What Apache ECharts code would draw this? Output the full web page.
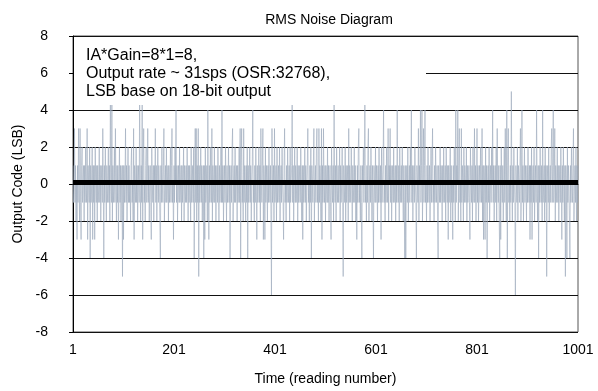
<!DOCTYPE html>
<html>
<head>
<meta charset="utf-8">
<script src="https://cdn.jsdelivr.net/npm/echarts@6/dist/echarts.min.js"></script>
<style>
  html, body { margin: 0; padding: 0; background: #fff; }
  #chart { width: 598px; height: 391px; }
</style>
</head>
<body>
<div id="chart"></div>
<script>
// Output code of each ADC reading, in LSB (50 readings per row)
const codesA = [1,-1,0,3,-1,1,-2,0,-3,1, -1,3,0,-2,3,-1,-3,1,2,-1, 0,1,-2,1,-1,2,0,-1,3,-3, 1,0,-1,2,-4,1,-1,0,2,-3, 1,-1,1,-3,2,0,-1,1,-2,1];
const codesB = [-1,0,2,-1,1,-2,0,1,-1,3, 0,-4,1,-1,2,0,-2,1,-1,0, 2,-1,1,-2,5,0,-1,5,-2,1, -1,0,2,-1,3,0,-2,1,-1,1, -3,0,2,-1,1,-2,0,1,-5,1];
const codesC = [-3,1,-1,0,3,-1,1,-2,0,2, -1,1,-1,0,-2,1,2,-1,0,-2, 3,-3,1,0,-1,2,-1,1,-2,0, 1,-1,5,0,-2,1,-1,5,-3,1, 3,-1,0,-2,1,2,-1,0,3,-1];
const codesD = [1,-2,0,1,-1,-3,2,0,-1,1, -2,1,0,3,-1,1,-2,0,2,-1, 1,0,-2,-4,1,-1,2,0,-1,1, 3,-2,0,1,-1,2,-1,0,1,-2, 1,-1,0,2,-1,1,3,-1,0,-3];
const codesE = [1,-1,2,0,4,-1,1,-2,0,1, -1,2,-1,0,1,-2,1,-1,0,2, -2,1,0,-1,1,-1,2,0,-2,1, -1,1,0,-2,2,-1,0,1,-1,2, -4,0,3,-1,3,-2,1,-1,3,-5];
const codesF = [1,-1,0,2,-1,1,-2,0,1,-4, 1,-3,2,-1,0,1,-2,4,0,-3, 1,-1,2,0,-1,3,-2,1,0,-1, 2,-1,1,-2,0,1,-1,2,0,-2, 1,-1,0,2,-1,4,-1,1,-2,0];
const codesG = [1,-1,2,0,-2,1,-1,0,2,-1, 1,-4,0,1,-1,2,3,-2,0,1, -1,2,-1,0,1,-2,1,-1,0,2, -1,3,-4,1,3,-1,0,-2,3,-1, 1,0,-2,1,-1,2,-4,1,-1,0];
const codesH = [2,-1,1,-2,0,1,4,-1,0,-2, 1,-1,2,0,-3,1,-1,0,2,-1, 1,-2,3,0,-1,1,3,-3,1,0, -3,2,-1,1,0,-2,1,-1,2,0, -1,1,-2,-6,3,-1,0,1,-2,3];
const codesI = [-1,0,1,-2,2,-1,0,1,-1,2, -2,0,1,-1,2,0,-1,-3,1,3, -1,0,-2,1,-1,2,0,-1,1,-2, 2,-1,0,1,5,-1,1,-2,0,2, -1,1,-1,0,2,-2,1,-1,0,1];
const codesJ = [-1,2,0,-2,1,-3,1,-1,0,2, -1,1,-2,0,1,3,-1,0,-2,1, -1,2,-4,1,0,-1,1,3,-2,0, 1,-1,2,3,-1,0,-2,3,-1,1, 0,-2,3,-3,1,-1,3,0,-1,1];
const codesK = [-2,1,0,-1,2,-1,1,-2,0,1, -1,-3,2,0,-1,1,-2,5,0,-1, 1,-2,2,0,-1,1,-1,0,2,-2, 1,-1,0,2,-1,-5,1,0,-1,2, -2,1,-1,0,1,-2,3,-1,1,0];
const codesL = [-1,2,0,-2,1,-1,0,2,-1,1, -2,0,-3,1,-1,2,3,-1,0,-2, 1,-1,-4,1,0,2,-1,1,5,-1, 0,-2,1,-1,2,3,-2,0,1,-1, 2,0,-2,1,-1,-4,1,0,-1,2];
const codesM = [-1,1,0,-2,1,-1,2,0,-1,1, -3,2,-1,0,1,4,-1,0,-2,1, -1,2,0,-1,3,-2,1,0,3,-1, 1,-2,0,1,-1,2,-1,0,1,-2, 1,-1,4,0,-1,1,-2,2,0,-1];
const codesN = [1,-1,2,0,-2,1,-1,-4,1,-4, 0,1,-1,2,-2,0,1,-1,2,0, 4,-1,1,-2,0,1,-1,2,0,-1, -4,1,0,-1,3,-2,1,0,4,-1, 1,4,-2,0,3,-1,1,4,-1,0];
const codesO = [-2,1,-1,2,0,-1,1,-2,0,2, -1,1,3,-1,0,-2,1,-1,2,0, -1,1,-2,-4,1,0,-1,2,-1,1, 0,-2,1,-1,2,0,-1,1,-2,2, 0,-1,1,-3,1,-1,0,2,-2,1];
const codesP = [-1,0,-3,1,-1,2,0,-2,4,-1, 1,0,4,-2,1,3,-1,0,-2,3, -1,1,0,-2,2,-1,1,0,-1,2, -2,1,-1,0,1,-1,-3,2,0,-1, 1,-2,2,0,-1,3,-1,1,-2,0];
const codesQ = [3,-1,1,-2,0,1,-1,2,0,-1, 3,-2,1,-3,1,0,-3,2,-1,1, -4,0,1,-1,2,-2,0,1,-1,2, 0,4,-1,1,-2,0,1,-1,2,-2, 3,0,-1,1,-2,-4,1,-3,2,0];
const codesR = [-1,1,-2,0,2,-1,3,0,-2,4, -4,1,3,-1,0,-2,1,-1,5,0, -2,1,-1,2,0,-1,-6,1,0,-1, 2,-2,1,0,-1,1,3,-2,0,4, -1,1,-2,0,2,-1,1,0,-2,1];
const codesS = [-1,2,0,-1,1,-3,1,-1,2,-3, 0,1,-1,2,-2,0,1,-1,4,0, -2,1,-4,1,-1,2,0,-1,1,-2, 4,-1,0,1,-2,2,-1,1,-5,0, 1,-1,2,-2,0,1,-1,2,3,-1];
const codesT = [1,4,-1,0,3,-2,1,-1,0,2, -1,1,-2,0,1,-1,2,0,-3,1, -1,2,0,-2,1,-5,1,0,-4,2, -1,1,0,-2,-4,1,-1,2,0,-1, 1,3,-2,0,1,-1,2,-2,1,-1];
const codesU = [1];

// Average output code, drawn as the heavy horizontal line
const averageCode = 0.12;

// Axis settings and texts
const yTicks = [-8, -6, -4, -2, 0, 2, 4, 6, 8];
const xTickStep = 200;
const chartTitle = 'RMS Noise Diagram';
const xAxisTitle = 'Time (reading number)';
const yAxisTitle = 'Output Code (LSB)';
const noteLines = ['IA*Gain=8*1=8,', 'Output rate ~ 31sps (OSR:32768),', 'LSB base on 18-bit output'];

const outputCodes = [codesA, codesB, codesC, codesD, codesE, codesF, codesG, codesH, codesI, codesJ,
  codesK, codesL, codesM, codesN, codesO, codesP, codesQ, codesR, codesS, codesT, codesU].flat();
const readingNumbers = outputCodes.map((_, i) => String(i + 1));

const FONT = 'Liberation Sans, Arial, sans-serif';
const FS = 14;

const chart = echarts.init(document.getElementById('chart'), null, { renderer: 'canvas' });
chart.setOption({
  animation: false,
  backgroundColor: '#fff',
  title: {
    text: chartTitle,
    left: 324, top: 8, textAlign: 'center',
    textStyle: { fontFamily: FONT, fontSize: FS, fontWeight: 'normal', color: '#000' }
  },
  grid: {
    left: 73, right: 20, top: 36, bottom: 57,
    show: true, borderColor: '#555', borderWidth: 1, backgroundColor: 'transparent'
  },
  xAxis: {
    type: 'category',
    data: readingNumbers,
    boundaryGap: false,
    name: xAxisTitle,
    nameLocation: 'middle',
    nameGap: 40,
    nameTextStyle: { fontFamily: FONT, fontSize: FS, color: '#000' },
    axisLine: { lineStyle: { color: '#000', width: 1 } },
    axisTick: { show: false },
    axisLabel: {
      interval: (idx) => idx % xTickStep === 0,
      margin: 11,
      fontFamily: FONT, fontSize: FS, color: '#000'
    },
    splitLine: { show: false }
  },
  yAxis: {
    type: 'value',
    min: yTicks[0], max: yTicks[yTicks.length - 1], interval: 2,
    name: yAxisTitle,
    nameLocation: 'middle',
    nameGap: 44,
    nameTextStyle: { fontFamily: FONT, fontSize: FS, color: '#000' },
    axisLine: { show: true, lineStyle: { color: '#000', width: 1 } },
    axisTick: { show: true, length: 4, lineStyle: { color: '#000' } },
    axisLabel: { margin: 25, fontFamily: FONT, fontSize: FS, color: '#000' },
    splitLine: { show: true, lineStyle: { color: '#111', width: 1 } }
  },
  series: [{
    type: 'line',
    data: outputCodes,
    symbol: 'none',
    sampling: false,
    lineStyle: { color: '#9ba7ba', width: 0.6 },
    z: 2,
    markLine: {
      silent: true,
      symbol: 'none',
      label: { show: false },
      lineStyle: { color: '#000', width: 5, type: 'solid' },
      data: [{ yAxis: averageCode }],
      z: 5
    }
  }],
  graphic: [
    {
      type: 'rect', z: 100, zlevel: 0,
      shape: { x: 74, y: 37, width: 352, height: 68 },
      style: { fill: '#fff' }
    },
    {
      type: 'text', z: 101, zlevel: 0, x: 86, y: 47,
      style: { text: noteLines.join('\n'), fontFamily: FONT, fontSize: 16, lineHeight: 18, fill: '#000' }
    }
  ]
});
</script>
</body>
</html>
